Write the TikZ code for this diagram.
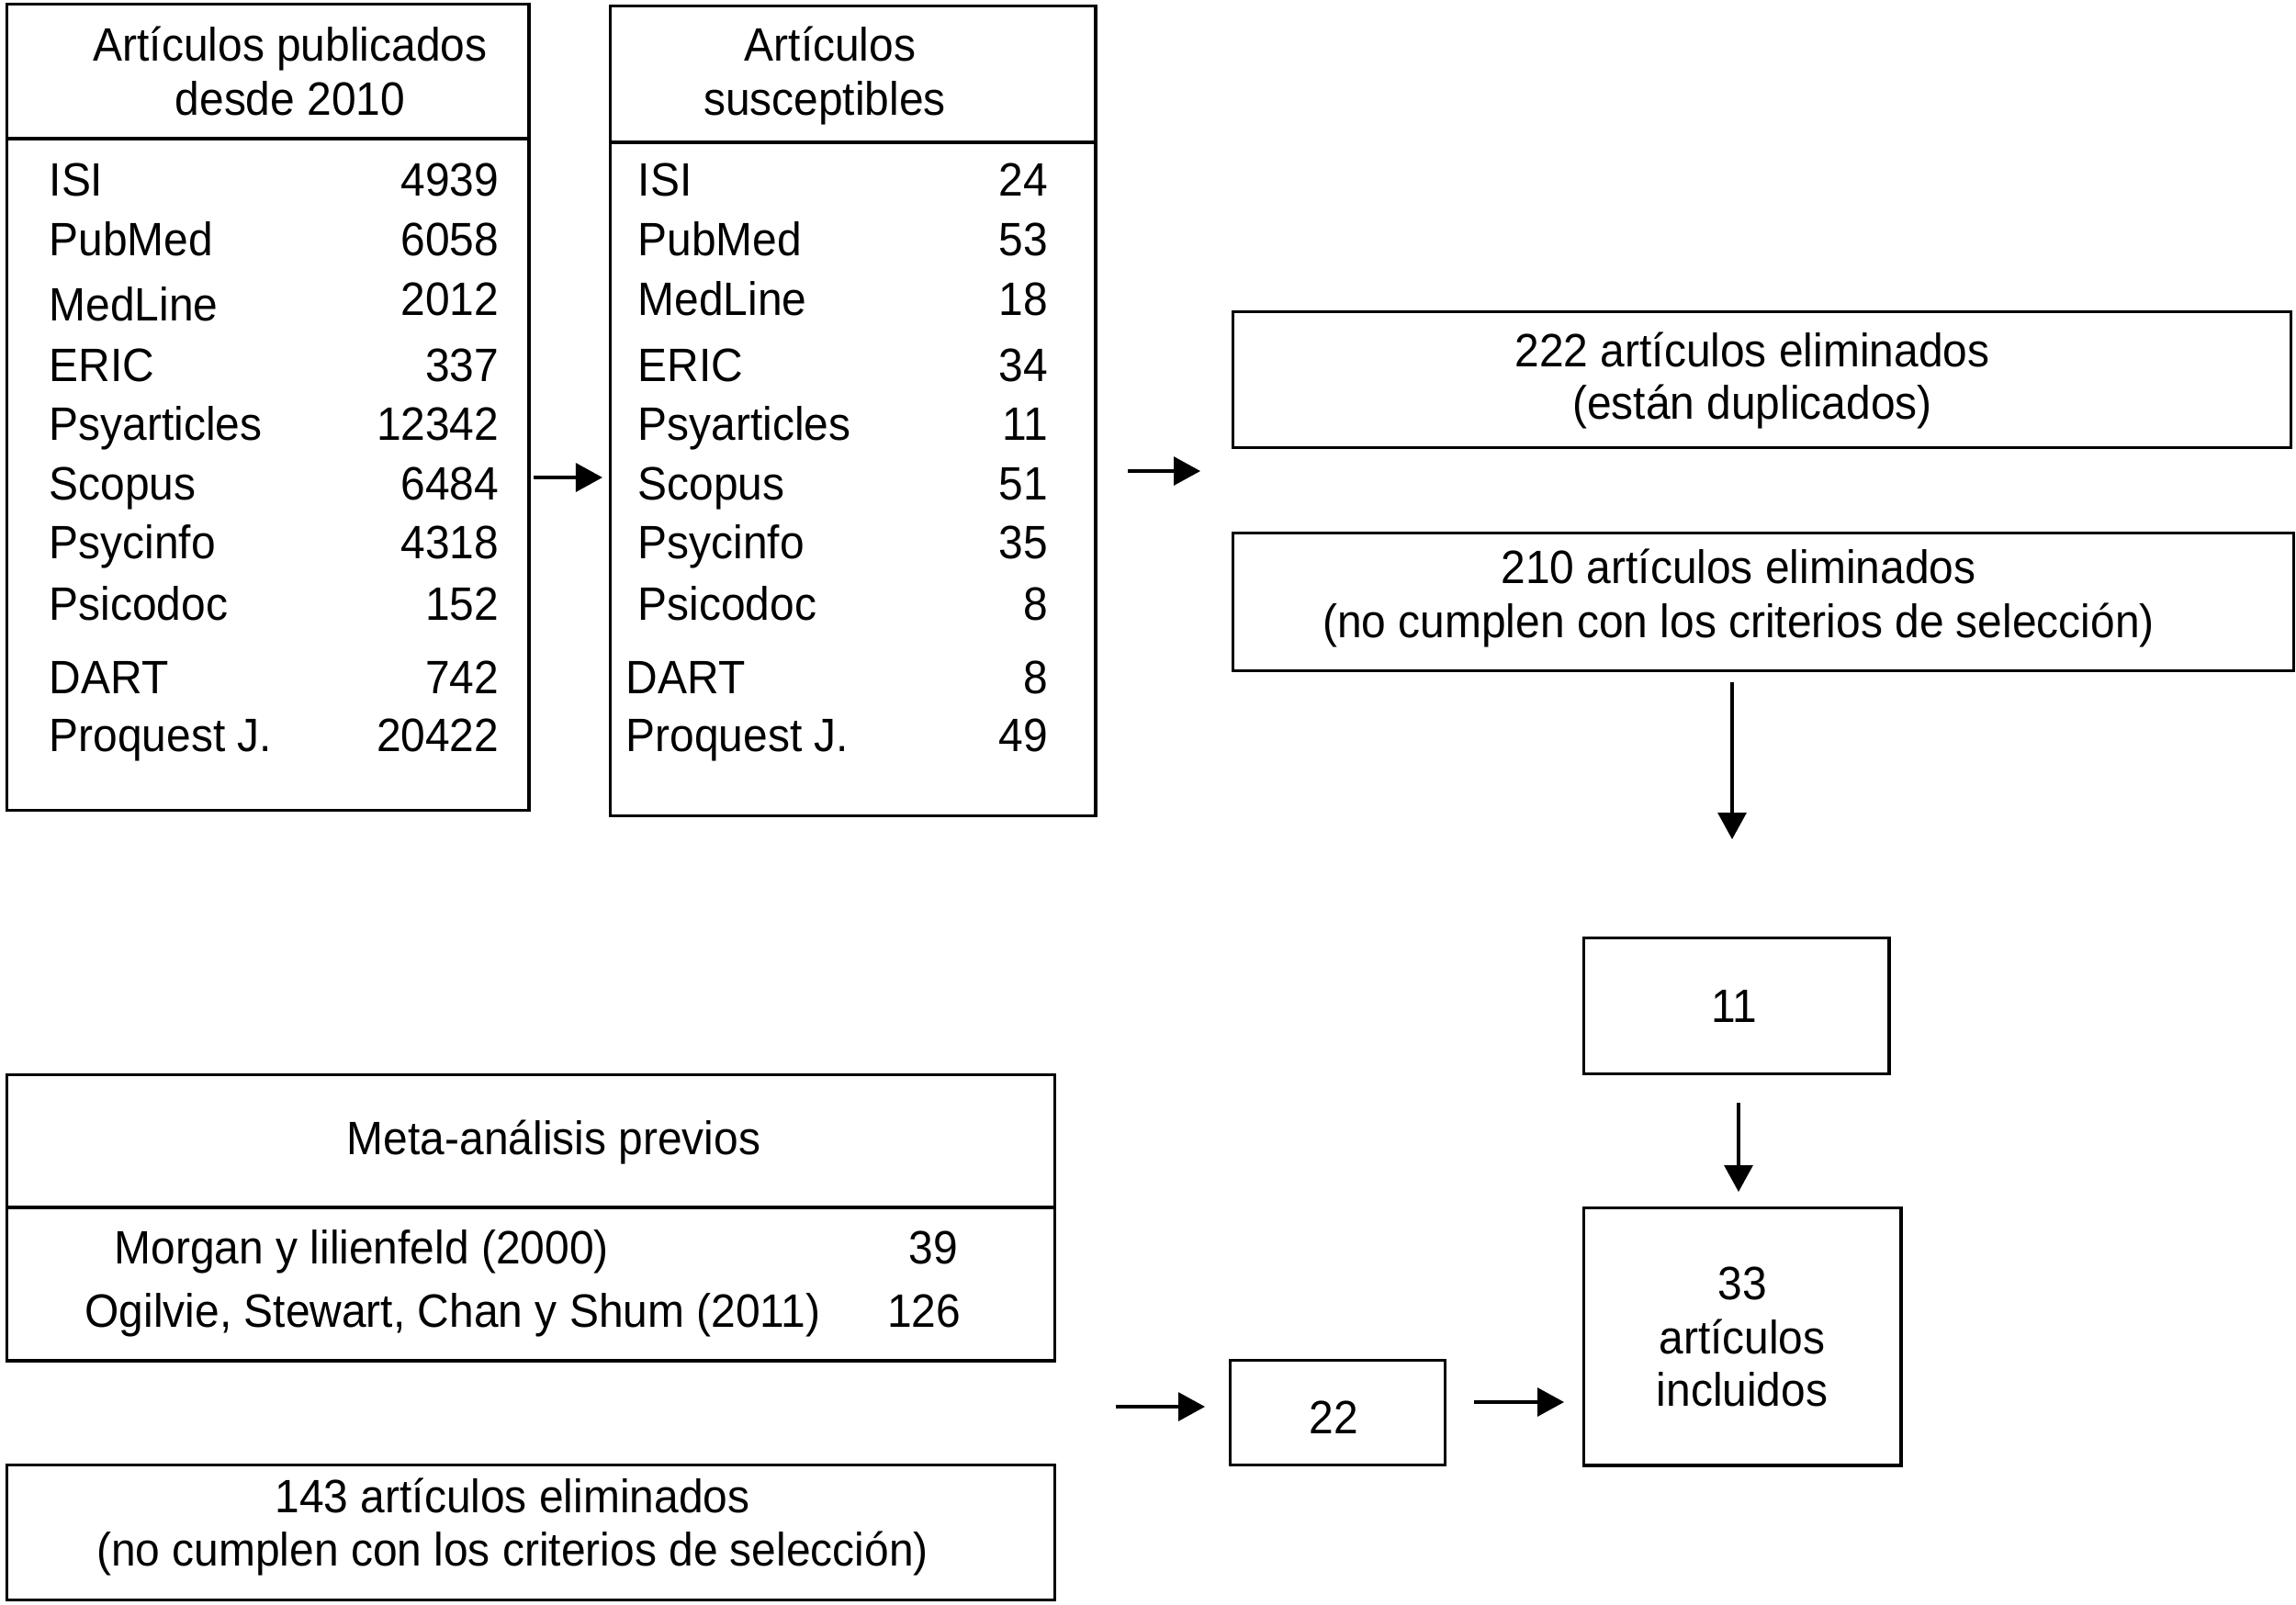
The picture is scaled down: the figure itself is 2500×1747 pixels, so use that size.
\documentclass[tikz,border=0pt]{standalone}
\usepackage{fontspec}
\setmainfont{Liberation Sans}[FakeStretch=0.94]
\usetikzlibrary{arrows.meta}
\newcommand{\mysz}{\fontsize{14.5pt}{17pt}\selectfont}
\tikzset{
  box/.style={draw, line width=0.95pt, inner sep=0pt, anchor=north west},
  tb/.style={inner sep=0pt, anchor=base, font=\mysz},
  tl/.style={inner sep=0pt, anchor=base west, font=\mysz},
  tr/.style={inner sep=0pt, anchor=base east, font=\mysz},
  arr/.style={-{Triangle[length=0.29cm,width=0.31cm]}, line width=0.9pt},
  divl/.style={line width=0.95pt},
}
\begin{document}
\begin{tikzpicture}[x=0.01cm, y=-0.01cm]
\useasboundingbox (0,0) rectangle (2500,1747);
% ---- box 1
\node[box, minimum width=5.68cm, minimum height=8.77cm] (b1) at (6,3) {};
\coordinate (d1) at (0,151);
\draw[divl] (b1.west |- d1) -- (b1.east |- d1);
\node[tb] (h1a) at (316,66) {Artículos publicados};
\node[tb] (h1b) at (316,125) {desde 2010};
\foreach \nm/\val/\yy/\ly [count=\i] in {ISI/4939/213/213, PubMed/6058/278/278, MedLine/2012/343/349, ERIC/337/415/415, Psyarticles/12342/479/479, Scopus/6484/544/544, Psycinfo/4318/608/608, Psicodoc/152/675/675, DART/742/755/755, Proquest J./20422/818/818}{
  \node[tl] (l1\i) at (53,\ly) {\nm};
  \node[tr] (n1\i) at (544,\yy) {\val};
}
% ---- box 2
\node[box, minimum width=5.28cm, minimum height=8.81cm] (b2) at (663,5) {};
\coordinate (d2) at (0,155);
\draw[divl] (b2.west |- d2) -- (b2.east |- d2);
\node[tb] (h2a) at (904,66) {Artículos};
\node[tb] (h2b) at (898,125) {susceptibles};
\foreach \nm/\val/\yy/\xx [count=\i] in {ISI/24/213/694, PubMed/53/278/694, MedLine/18/343/694, ERIC/34/415/694, Psyarticles/11/479/694, Scopus/51/544/694, Psycinfo/35/608/694, Psicodoc/8/675/694, DART/8/755/681, Proquest J./49/818/681}{
  \node[tl] (l2\i) at (\xx,\yy) {\nm};
  \node[tr] (n2\i) at (1142,\yy) {\val};
}
% ---- right column
\node[box, minimum width=11.51cm, minimum height=1.48cm] (b222) at (1341,338) {};
\node[tb] (t222a) at (1908,399) {222 artículos eliminados};
\node[tb] (t222b) at (1908,456) {(están duplicados)};
\node[box, minimum width=11.54cm, minimum height=1.50cm] (b210) at (1341,579) {};
\node[tb] (t210a) at (1893,635) {210 artículos eliminados};
\node[tb] (t210b) at (1893,694) {(no cumplen con los criterios de selección)};
\node[box, minimum width=3.32cm, minimum height=1.48cm] (b11) at (1723,1020) {};
\node[tb] (t11) at (1888,1113) {11};
\node[box, minimum width=3.45cm, minimum height=2.80cm] (b33) at (1723,1314) {};
\node[tb] (t33a) at (1897,1415) {33};
\node[tb] (t33b) at (1897,1474) {artículos};
\node[tb] (t33c) at (1897,1531) {incluidos};
\node[box, minimum width=2.34cm, minimum height=1.14cm] (b22) at (1338,1480) {};
\node[tb] (t22) at (1452,1561) {22};
% ---- bottom left
\node[box, minimum width=11.40cm, minimum height=3.11cm] (bm) at (6,1169) {};
\coordinate (dm) at (0,1315);
\draw[divl] (bm.west |- dm) -- (bm.east |- dm);
\node[tb] (tm) at (603,1257) {Meta-análisis previos};
\node[tl] (tm1) at (124,1376) {Morgan y lilienfeld (2000)};
\node[tr] (tm1n) at (1044,1376) {39};
\node[tl] (tm2) at (92,1445) {Ogilvie, Stewart, Chan y Shum (2011)};
\node[tr] (tm2n) at (1047,1445) {126};
\node[box, minimum width=11.40cm, minimum height=1.47cm] (b143) at (6,1594) {};
\node[tb] (t143a) at (558,1647) {143 artículos eliminados};
\node[tb] (t143b) at (558,1705) {(no cumplen con los criterios de selección)};
% ---- arrows
\coordinate (y1) at (0,520);
\draw[arr, shorten <=1pt, shorten >=2pt] (b1.east |- y1) -- (b2.west |- y1);
\coordinate (a2s) at (1228,513);
\coordinate (a2e) at (1307,513);
\draw[arr] (a2s) -- (a2e);
\coordinate (a3s) at (1886,743);
\coordinate (a3e) at (1886,914);
\draw[arr] (a3s) -- (a3e);
\coordinate (a4s) at (1893,1201);
\coordinate (a4e) at (1893,1298);
\draw[arr] (a4s) -- (a4e);
\coordinate (a5s) at (1215,1532);
\coordinate (a5e) at (1312,1532);
\draw[arr] (a5s) -- (a5e);
\coordinate (a6s) at (1605,1527);
\coordinate (a6e) at (1703,1527);
\draw[arr] (a6s) -- (a6e);
\end{tikzpicture}
\end{document}
